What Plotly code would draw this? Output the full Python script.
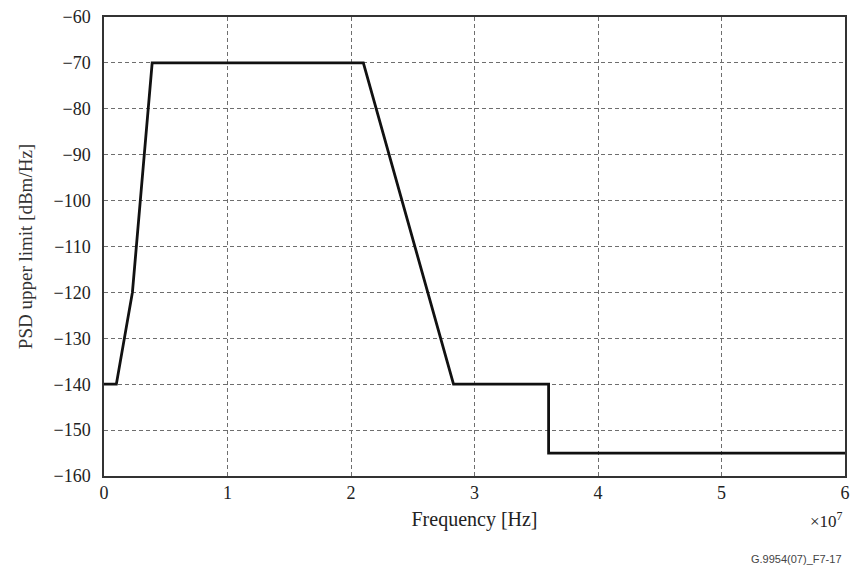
import plotly.graph_objects as go

# PSD upper-limit mask breakpoints
freq_hz = [0, 1.0e6, 2.3e6, 3.9e6, 2.1e7, 2.83e7, 3.6e7, 3.6e7, 6.0e7]
psd_dbm_hz = [-140, -140, -120, -70, -70, -140, -140, -155, -155]

x_ticks = [0, 1e7, 2e7, 3e7, 4e7, 5e7, 6e7]
x_tick_text = ["0", "1", "2", "3", "4", "5", "6"]
y_ticks = [-60, -70, -80, -90, -100, -110, -120, -130, -140, -150, -160]
y_tick_text = ["\u2212" + str(abs(v)) for v in y_ticks]

SERIF = "Liberation Serif, Times New Roman, serif"

fig = go.Figure()
fig.add_trace(go.Scatter(
    x=freq_hz, y=psd_dbm_hz, mode="lines",
    line=dict(color="#111111", width=2.8),
    showlegend=False, hoverinfo="skip",
))

axis_common = dict(
    showline=True, linecolor="#333333", linewidth=1.5, mirror=True,
    showgrid=True, gridcolor="#6e6e6e", gridwidth=1, griddash="4px,3px",
    zeroline=False, ticks="", tickfont=dict(family=SERIF, size=18, color="#222222"),
    automargin=False,
)

fig.update_xaxes(
    range=[0, 6e7], tickvals=x_ticks, ticktext=x_tick_text,
    title=dict(text="Frequency [Hz]", font=dict(family=SERIF, size=20, color="#222222"), standoff=10),
    **axis_common,
)
fig.update_yaxes(
    range=[-160, -60], tickvals=y_ticks, ticktext=y_tick_text,
    ticklabelstandoff=8,
    title=dict(text="PSD upper limit [dBm/Hz]", font=dict(family=SERIF, size=19, color="#333333"), standoff=16),
    **axis_common,
)

fig.add_annotation(
    x=1.0, y=-0.068, xref="paper", yref="paper", xanchor="right", yanchor="top",
    text="\u00d710<sup>7</sup>", showarrow=False,
    font=dict(family=SERIF, size=17, color="#222222"),
)
fig.add_annotation(
    x=0.999, y=-0.163, xref="paper", yref="paper", xanchor="right", yanchor="top",
    text="G.9954(07)_F7-17", showarrow=False,
    font=dict(family="Liberation Sans Narrow, Liberation Sans, Arial, sans-serif", size=11, color="#444444"),
)

fig.update_layout(
    width=854, height=567,
    margin=dict(l=104, r=9, t=17, b=91),
    paper_bgcolor="white", plot_bgcolor="white",
)

fig.write_html("out.html")
